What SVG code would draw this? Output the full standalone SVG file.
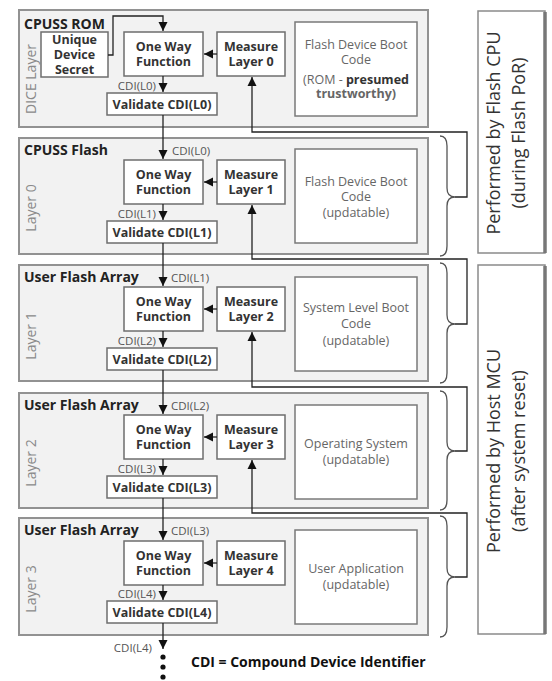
<svg xmlns="http://www.w3.org/2000/svg" width="552" height="681" viewBox="0 0 552 681">
<defs>
<marker id="ah" markerUnits="userSpaceOnUse" markerWidth="10" markerHeight="10" refX="9" refY="5" orient="auto">
<path d="M0,0.5 L9,5 L0,9.5 z" fill="#111"/>
</marker>
<style>
.layer{fill:#f2f2f2;stroke:#929292;stroke-width:2}
.box{fill:#fff;stroke:#6e6e6e;stroke-width:1.5}
.code{fill:#fff;stroke:#7a7a7a;stroke-width:1.5}
.panel{fill:#fff;stroke:#8a8a8a;stroke-width:1.5}
.shadow{stroke:#777;stroke-width:3.5;fill:none}
.ln{fill:none;stroke:#222;stroke-width:1.3}
.brace{fill:none;stroke:#555;stroke-width:1.3}
.title{font-family:"Open Sans",sans-serif;font-weight:bold;font-size:14px;fill:#222}
.side{font-family:"Open Sans",sans-serif;font-size:14px;fill:#8a8a8a}
.bt{font-family:"Open Sans",sans-serif;font-weight:bold;font-size:12.5px;fill:#333;text-anchor:middle}
.ct{font-family:"Open Sans",sans-serif;font-size:12.5px;fill:#666;text-anchor:middle}
.cdi{font-family:"Open Sans",sans-serif;font-size:11.5px;fill:#555}
.pt{font-family:"Open Sans",sans-serif;font-size:18px;fill:#333;text-anchor:middle}
.leg{font-family:"Open Sans",sans-serif;font-weight:bold;font-size:14px;fill:#111}
</style>
</defs>

<!-- DICE Layer -->
<g id="layer-dice">
<rect class="layer" x="19" y="10" width="409" height="117"/>
<text class="title" x="24" y="29">CPUSS ROM</text>
<text class="side" transform="translate(36,79) rotate(-90)" text-anchor="middle">DICE Layer</text>
</g>
<g id="uds"><rect class="box" x="41" y="32" width="67" height="45"/>
<text class="bt" x="74.5" y="44">Unique</text><text class="bt" x="74.5" y="59">Device</text><text class="bt" x="74.5" y="74">Secret</text></g>
<g id="owf0"><rect class="box" x="124" y="32" width="79" height="44"/>
<text class="bt" x="163.5" y="51">One Way</text><text class="bt" x="163.5" y="66">Function</text></g>
<g id="measure0"><rect class="box" x="217" y="32" width="68" height="44"/>
<text class="bt" x="251" y="51">Measure</text><text class="bt" x="251" y="66">Layer 0</text></g>
<g id="validate0"><rect class="box" x="107" y="93" width="110" height="22"/>
<text class="bt" x="162" y="109">Validate CDI(L0)</text></g>
<g id="code0"><rect class="code" x="295" y="22" width="122" height="94"/>
<text class="ct" x="356" y="49">Flash Device Boot</text><text class="ct" x="356" y="64">Code</text>
<text class="ct" x="356" y="84">(ROM - <tspan font-weight="bold" fill="#333">presumed</tspan></text>
<text class="ct" x="356" y="98" font-weight="bold" fill="#333">trustworthy)</text></g>

<!-- Layer 0 -->
<g id="layer-0">
<rect class="layer" x="19" y="138" width="409" height="116"/>
<text class="title" x="24" y="155">CPUSS Flash</text>
<text class="side" transform="translate(36,208) rotate(-90)" text-anchor="middle">Layer 0</text>
</g>
<g id="owf1"><rect class="box" x="124" y="160" width="79" height="44"/>
<text class="bt" x="163.5" y="179">One Way</text><text class="bt" x="163.5" y="194">Function</text></g>
<g id="measure1"><rect class="box" x="217" y="160" width="68" height="44"/>
<text class="bt" x="251" y="179">Measure</text><text class="bt" x="251" y="194">Layer 1</text></g>
<g id="validate1"><rect class="box" x="107" y="221" width="110" height="22"/>
<text class="bt" x="162" y="237">Validate CDI(L1)</text></g>
<g id="code1"><rect class="code" x="295" y="149" width="122" height="94"/>
<text class="ct" x="356" y="186">Flash Device Boot</text><text class="ct" x="356" y="201">Code</text><text class="ct" x="356" y="217">(updatable)</text></g>

<!-- Layer 1 -->
<g id="layer-1">
<rect class="layer" x="19" y="265" width="409" height="116"/>
<text class="title" x="24" y="282">User Flash Array</text>
<text class="side" transform="translate(36,336) rotate(-90)" text-anchor="middle">Layer 1</text>
</g>
<g id="owf2"><rect class="box" x="124" y="287" width="79" height="44"/>
<text class="bt" x="163.5" y="306">One Way</text><text class="bt" x="163.5" y="321">Function</text></g>
<g id="measure2"><rect class="box" x="217" y="287" width="68" height="44"/>
<text class="bt" x="251" y="306">Measure</text><text class="bt" x="251" y="321">Layer 2</text></g>
<g id="validate2"><rect class="box" x="107" y="348" width="110" height="22"/>
<text class="bt" x="162" y="364">Validate CDI(L2)</text></g>
<g id="code2"><rect class="code" x="295" y="277" width="122" height="94"/>
<text class="ct" x="356" y="312">System Level Boot</text><text class="ct" x="356" y="328">Code</text><text class="ct" x="356" y="345">(updatable)</text></g>

<!-- Layer 2 -->
<g id="layer-2">
<rect class="layer" x="19" y="393" width="409" height="115"/>
<text class="title" x="24" y="410">User Flash Array</text>
<text class="side" transform="translate(36,463) rotate(-90)" text-anchor="middle">Layer 2</text>
</g>
<g id="owf3"><rect class="box" x="124" y="415" width="79" height="44"/>
<text class="bt" x="163.5" y="434">One Way</text><text class="bt" x="163.5" y="449">Function</text></g>
<g id="measure3"><rect class="box" x="217" y="415" width="68" height="44"/>
<text class="bt" x="251" y="434">Measure</text><text class="bt" x="251" y="449">Layer 3</text></g>
<g id="validate3"><rect class="box" x="107" y="476" width="110" height="22"/>
<text class="bt" x="162" y="492">Validate CDI(L3)</text></g>
<g id="code3"><rect class="code" x="295" y="405" width="122" height="94"/>
<text class="ct" x="356" y="448">Operating System</text><text class="ct" x="356" y="464">(updatable)</text></g>

<!-- Layer 3 -->
<g id="layer-3">
<rect class="layer" x="19" y="518" width="409" height="117"/>
<text class="title" x="24" y="535">User Flash Array</text>
<text class="side" transform="translate(36,589) rotate(-90)" text-anchor="middle">Layer 3</text>
</g>
<g id="owf4"><rect class="box" x="124" y="541" width="79" height="44"/>
<text class="bt" x="163.5" y="560">One Way</text><text class="bt" x="163.5" y="575">Function</text></g>
<g id="measure4"><rect class="box" x="217" y="541" width="68" height="44"/>
<text class="bt" x="251" y="560">Measure</text><text class="bt" x="251" y="575">Layer 4</text></g>
<g id="validate4"><rect class="box" x="107" y="601" width="110" height="22"/>
<text class="bt" x="162" y="617">Validate CDI(L4)</text></g>
<g id="code4"><rect class="code" x="295" y="530" width="122" height="94"/>
<text class="ct" x="356" y="573">User Application</text><text class="ct" x="356" y="589">(updatable)</text></g>

<!-- Side panels -->
<g id="panel-flash-cpu">
<rect class="panel" x="478" y="11" width="67" height="242"/>
<line class="shadow" x1="545" y1="12" x2="545" y2="253"/>
<text class="pt" transform="translate(500,133) rotate(-90)">Performed by Flash CPU</text>
<text class="pt" transform="translate(525,133) rotate(-90)">(during Flash PoR)</text>
</g>
<g id="panel-host-mcu">
<rect class="panel" x="478" y="265" width="67" height="369"/>
<line class="shadow" x1="545" y1="266" x2="545" y2="634"/>
<text class="pt" transform="translate(500,451) rotate(-90)">Performed by Host MCU</text>
<text class="pt" transform="translate(525,451) rotate(-90)">(after system reset)</text>
</g>

<!-- Legend -->
<g id="legend"><text class="leg" x="191" y="667">CDI = Compound Device Identifier</text></g>

<!-- Connectors -->
<g id="connectors">
<!-- UDS to OWF -->
<polyline class="ln" points="108,55 113,55 113,16 163,16 163,31" marker-end="url(#ah)"/>
<!-- OWF to Validate -->
<line class="ln" x1="163" y1="76" x2="163" y2="92" marker-end="url(#ah)"/>
<line class="ln" x1="163" y1="204" x2="163" y2="220" marker-end="url(#ah)"/>
<line class="ln" x1="163" y1="331" x2="163" y2="347" marker-end="url(#ah)"/>
<line class="ln" x1="163" y1="459" x2="163" y2="475" marker-end="url(#ah)"/>
<line class="ln" x1="163" y1="585" x2="163" y2="600" marker-end="url(#ah)"/>
<!-- Validate to next OWF -->
<line class="ln" x1="163" y1="115" x2="163" y2="159" marker-end="url(#ah)"/>
<line class="ln" x1="163" y1="243" x2="163" y2="286" marker-end="url(#ah)"/>
<line class="ln" x1="163" y1="370" x2="163" y2="414" marker-end="url(#ah)"/>
<line class="ln" x1="163" y1="498" x2="163" y2="540" marker-end="url(#ah)"/>
<line class="ln" x1="163" y1="623" x2="163" y2="649" marker-end="url(#ah)"/>
<!-- Measure to OWF -->
<line class="ln" x1="217" y1="54" x2="204" y2="54" marker-end="url(#ah)"/>
<line class="ln" x1="217" y1="182" x2="204" y2="182" marker-end="url(#ah)"/>
<line class="ln" x1="217" y1="309" x2="204" y2="309" marker-end="url(#ah)"/>
<line class="ln" x1="217" y1="437" x2="204" y2="437" marker-end="url(#ah)"/>
<line class="ln" x1="217" y1="563" x2="204" y2="563" marker-end="url(#ah)"/>
<!-- Braces and measurement feedback -->
<path class="brace" d="M440,136 Q447,136 447,146 L447,188 Q447,197 455,197 Q447,197 447,206 L447,246 Q447,256 440,256"/>
<polyline class="ln" points="455,197 467,197 467,132 252,132 252,77" marker-end="url(#ah)"/>
<path class="brace" d="M440,263 Q447,263 447,273 L447,315 Q447,324 455,324 Q447,324 447,333 L447,373 Q447,383 440,383"/>
<polyline class="ln" points="455,324 467,324 467,259 252,259 252,205" marker-end="url(#ah)"/>
<path class="brace" d="M440,391 Q447,391 447,401 L447,442 Q447,451 455,451 Q447,451 447,460 L447,500 Q447,510 440,510"/>
<polyline class="ln" points="455,451 467,451 467,387 252,387 252,332" marker-end="url(#ah)"/>
<path class="brace" d="M440,516 Q447,516 447,526 L447,568 Q447,577 455,577 Q447,577 447,586 L447,627 Q447,637 440,637"/>
<polyline class="ln" points="455,577 467,577 467,513 252,513 252,460" marker-end="url(#ah)"/>
<!-- dots -->
<circle cx="163" cy="657" r="2.6" fill="#111"/>
<circle cx="163" cy="667" r="2.6" fill="#111"/>
<circle cx="163" cy="677" r="2.6" fill="#111"/>
<!-- CDI labels -->
<text class="cdi" x="156" y="90" text-anchor="end">CDI(L0)</text>
<text class="cdi" x="172" y="155">CDI(L0)</text>
<text class="cdi" x="156" y="218" text-anchor="end">CDI(L1)</text>
<text class="cdi" x="171" y="282">CDI(L1)</text>
<text class="cdi" x="156" y="345" text-anchor="end">CDI(L2)</text>
<text class="cdi" x="171" y="410">CDI(L2)</text>
<text class="cdi" x="156" y="473" text-anchor="end">CDI(L3)</text>
<text class="cdi" x="171" y="535">CDI(L3)</text>
<text class="cdi" x="156" y="598" text-anchor="end">CDI(L4)</text>
<text class="cdi" x="152" y="652" text-anchor="end">CDI(L4)</text>
</g>
</svg>
